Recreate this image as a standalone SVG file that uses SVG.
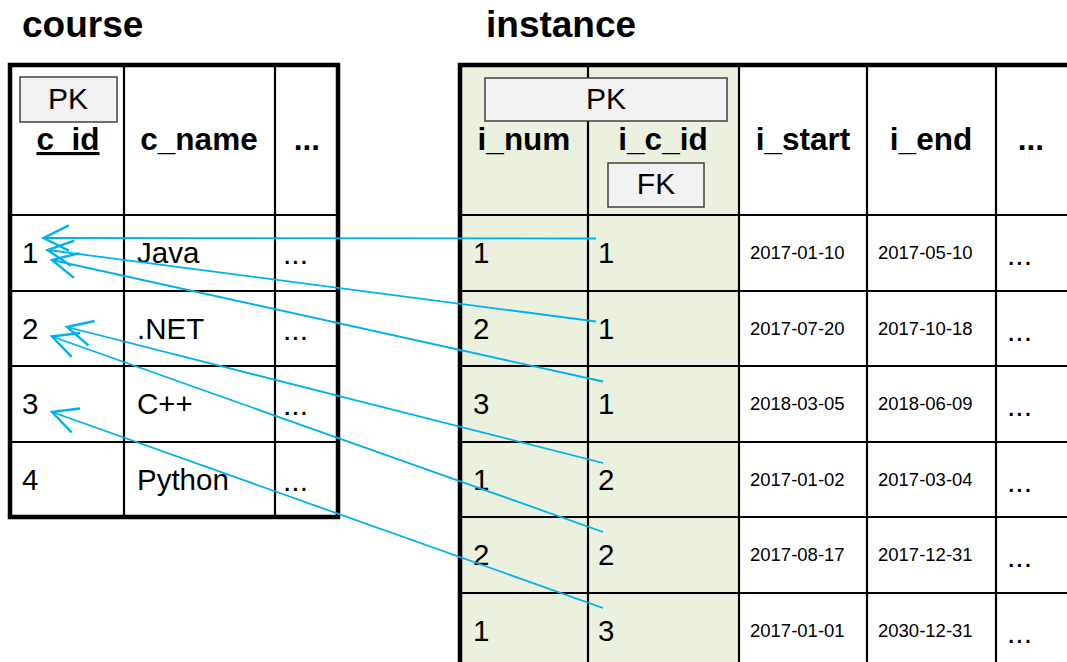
<svg xmlns="http://www.w3.org/2000/svg" width="1067" height="662" viewBox="0 0 1067 662">
<style>
text{font-family:"Liberation Sans",Arial,sans-serif;fill:#000}
.title{font-size:37px;font-weight:bold}
.hd{font-size:31.5px;font-weight:bold;text-anchor:middle}
.cell{font-size:29.5px}
.date{font-size:18.5px}
.dots{font-size:30px}
.key{font-size:30px;text-anchor:middle}
.keybox{fill:#F2F2F2;stroke:#404040;stroke-width:1.5}
.thin{stroke:#000;stroke-width:2.2;fill:none}
.thick{stroke:#000;stroke-width:4.5;fill:none}
.conn{stroke:#00B0F0;stroke-width:1.8;fill:none;marker-end:url(#arr)}
</style>
<defs>
<marker id="arr" markerUnits="userSpaceOnUse" markerWidth="40" markerHeight="40" viewBox="-25 -15 30 30" refX="0" refY="0" orient="auto" overflow="visible">
<path d="M -19,-9.5 L 0,0 L -19,9.5" fill="none" stroke="#00B0F0" stroke-width="1.8"/>
</marker>
</defs>
<rect width="1067" height="662" fill="#fff"/>

<g id="course">
<text class="title" x="22" y="37">course</text>
<line class="thin" x1="10" y1="215" x2="338" y2="215"/>
<line class="thin" x1="10" y1="291" x2="338" y2="291"/>
<line class="thin" x1="10" y1="366" x2="338" y2="366"/>
<line class="thin" x1="10" y1="442" x2="338" y2="442"/>
<line class="thin" x1="124" y1="65" x2="124" y2="517"/>
<line class="thin" x1="275" y1="65" x2="275" y2="517"/>
<rect class="thick" x="10" y="65" width="328" height="452"/>
<rect class="keybox" x="20" y="77" width="97" height="45"/>
<text class="key" x="68" y="109">PK</text>
<text class="hd" x="68" y="150" text-decoration="underline">c_id</text>
<text class="hd" x="199" y="150">c_name</text>
<text class="hd" x="307" y="150">...</text>
<text class="cell" x="22" y="263">1</text>
<text class="cell" x="137" y="263">Java</text>
<text class="dots" x="283" y="264">...</text>
<text class="cell" x="22" y="339">2</text>
<text class="cell" x="137" y="339">.NET</text>
<text class="dots" x="283" y="340">...</text>
<text class="cell" x="22" y="414">3</text>
<text class="cell" x="137" y="414">C++</text>
<text class="dots" x="283" y="415">...</text>
<text class="cell" x="22" y="490">4</text>
<text class="cell" x="137" y="490">Python</text>
<text class="dots" x="283" y="491">...</text>
</g>

<g id="instance">
<text class="title" x="486" y="37">instance</text>
<rect x="460" y="65" width="279" height="597" fill="#EBF1DE"/>
<line class="thin" x1="460" y1="215" x2="1067" y2="215"/>
<line class="thin" x1="460" y1="291" x2="1067" y2="291"/>
<line class="thin" x1="460" y1="366" x2="1067" y2="366"/>
<line class="thin" x1="460" y1="442" x2="1067" y2="442"/>
<line class="thin" x1="460" y1="517" x2="1067" y2="517"/>
<line class="thin" x1="460" y1="593" x2="1067" y2="593"/>
<line class="thin" x1="588" y1="65" x2="588" y2="662"/>
<line class="thin" x1="739" y1="65" x2="739" y2="662"/>
<line class="thin" x1="867" y1="65" x2="867" y2="662"/>
<line class="thin" x1="996" y1="65" x2="996" y2="662"/>
<polyline class="thick" points="460,662 460,65 1067,65"/>
<rect class="keybox" x="485" y="78" width="242" height="43"/>
<text class="key" x="606" y="109">PK</text>
<rect class="keybox" x="608" y="163" width="96" height="44"/>
<text class="key" x="656" y="194">FK</text>
<text class="hd" x="524" y="150">i_num</text>
<text class="hd" x="663" y="150">i_c_id</text>
<text class="hd" x="803" y="150">i_start</text>
<text class="hd" x="931" y="150">i_end</text>
<text class="hd" x="1031" y="150">...</text>

<text class="cell" x="473" y="263">1</text>
<text class="cell" x="598" y="263">1</text>
<text class="date" x="750" y="259">2017-01-10</text>
<text class="date" x="878" y="259">2017-05-10</text>
<text class="dots" x="1007" y="265">...</text>

<text class="cell" x="473" y="339">2</text>
<text class="cell" x="598" y="339">1</text>
<text class="date" x="750" y="335">2017-07-20</text>
<text class="date" x="878" y="335">2017-10-18</text>
<text class="dots" x="1007" y="341">...</text>

<text class="cell" x="473" y="414">3</text>
<text class="cell" x="598" y="414">1</text>
<text class="date" x="750" y="410">2018-03-05</text>
<text class="date" x="878" y="410">2018-06-09</text>
<text class="dots" x="1007" y="416">...</text>

<text class="cell" x="473" y="490">1</text>
<text class="cell" x="598" y="490">2</text>
<text class="date" x="750" y="486">2017-01-02</text>
<text class="date" x="878" y="486">2017-03-04</text>
<text class="dots" x="1007" y="492">...</text>

<text class="cell" x="473" y="565">2</text>
<text class="cell" x="598" y="565">2</text>
<text class="date" x="750" y="561">2017-08-17</text>
<text class="date" x="878" y="561">2017-12-31</text>
<text class="dots" x="1007" y="567">...</text>

<text class="cell" x="473" y="641">1</text>
<text class="cell" x="598" y="641">3</text>
<text class="date" x="750" y="637">2017-01-01</text>
<text class="date" x="878" y="637">2030-12-31</text>
<text class="dots" x="1007" y="643">...</text>
</g>

<g id="connectors">
<line class="conn" x1="596" y1="238.5" x2="43.5" y2="238"/>
<line class="conn" x1="596" y1="321.5" x2="47.5" y2="250"/>
<line class="conn" x1="603" y1="381.5" x2="52" y2="260"/>
<line class="conn" x1="603" y1="463" x2="67" y2="327"/>
<line class="conn" x1="603" y1="532" x2="52" y2="336.5"/>
<line class="conn" x1="603" y1="608" x2="52" y2="412"/>
</g>
</svg>
